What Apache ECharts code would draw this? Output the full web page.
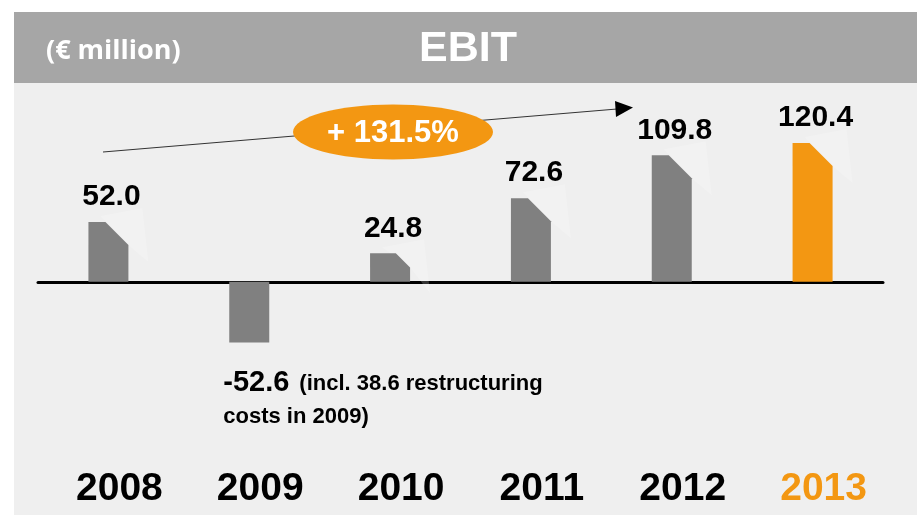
<!DOCTYPE html>
<html>
<head>
<meta charset="utf-8">
<title>EBIT</title>
<script src="https://cdn.jsdelivr.net/npm/echarts@6/dist/echarts.min.js"></script>
<style>
  html, body { margin: 0; padding: 0; background: #fff; }
  #main { width: 917px; height: 517px; }
</style>
</head>
<body>
<div id="main"></div>
<script type="text/javascript">
// EBIT in € million
var years = ['2008', '2009', '2010', '2011', '2012', '2013'];
var ebit = [52.0, -52.6, 24.8, 72.6, 109.8, 120.4];
var notes = ['', '(incl. 38.6 restructuring\ncosts in 2009)', '', '', '', ''];
var highlightYear = '2013';

var gray = '#808080';
var orange = '#f39712';
var font = '"Liberation Sans", Arial, sans-serif';

// growth from first to last year, shown in the orange bubble
var growth = (ebit[ebit.length - 1] - ebit[0]) / ebit[0] * 100;

function renderItem(params, api) {
  var v = api.value(1);
  var base = api.coord([api.value(0), 0]);
  var top = api.coord([api.value(0), v]);
  var w = 40;
  var x0 = base[0] - w / 2, x1 = base[0] + w / 2;
  var color = years[params.dataIndex] === highlightYear ? orange : gray;
  var children = [];
  if (v >= 0) {
    var h = base[1] - top[1];
    var c = Math.min(23, h * 0.5);
    // faint light reflection behind the cut corner
    children.push({
      type: 'polygon',
      shape: { points: [[x0 + 12, top[1] - 6], [x1 + 14, top[1] - 14], [x1 + 20, top[1] + 40], [x1, top[1] + c]] },
      style: { fill: 'rgba(255,255,255,0.2)' }
    });
    children.push({
      type: 'polygon',
      shape: { points: [[x0, base[1]], [x0, top[1]], [x1 - c, top[1]], [x1, top[1] + c], [x1, base[1]]] },
      style: { fill: color }
    });
    children.push({
      type: 'text',
      style: {
        text: v.toFixed(1), x: base[0] + 3, y: top[1] - 10,
        align: 'center', verticalAlign: 'bottom',
        font: 'bold 30px ' + font, fill: '#000'
      }
    });
  } else {
    children.push({
      type: 'rect',
      shape: { x: x0, y: base[1], width: w, height: top[1] - base[1] },
      style: { fill: color }
    });
    var note = notes[params.dataIndex];
    children.push({
      type: 'text',
      style: {
        text: '{big|' + v.toFixed(1) + '}{gap|}{small|' + note + '}',
        x: x0 - 6, y: top[1] + 24,
        align: 'left', verticalAlign: 'top',
        fill: '#000',
        rich: {
          big: { font: 'bold 29px ' + font, lineHeight: 34, fill: '#000' },
          gap: { width: 10 },
          small: { font: 'bold 22px ' + font, lineHeight: 32, fill: '#000' }
        }
      }
    });
  }
  return { type: 'group', children: children };
}

var myChart = echarts.init(document.getElementById('main'), null, { renderer: 'canvas' });
var option = {
  animation: false,
  backgroundColor: '#ffffff',
  graphic: [
    { type: 'rect', z: -10, shape: { x: 14, y: 12, width: 903, height: 71 }, style: { fill: '#a6a6a6' } },
    { type: 'rect', z: -10, shape: { x: 14, y: 83, width: 903, height: 432 }, style: { fill: '#efefef' } },
    { type: 'text', z: 5, style: { text: '(€ million)', x: 46, y: 51, verticalAlign: 'middle', font: 'bold 27px "Open Sans", sans-serif', fill: '#fff' } },
    { type: 'text', z: 5, style: { text: 'EBIT', x: 468, y: 49, align: 'center', verticalAlign: 'middle', font: 'bold 43px ' + font, fill: '#fff' } },
    { type: 'line', z: 5, shape: { x1: 103, y1: 152, x2: 617, y2: 109 }, style: { stroke: '#333', lineWidth: 1 } },
    { type: 'polygon', z: 5, shape: { points: [[615, 101], [633, 107.5], [616, 117]] }, style: { fill: '#000' } },
    { type: 'ellipse', z: 6, shape: { cx: 393, cy: 132, rx: 100, ry: 27.5 }, style: { fill: orange } },
    { type: 'text', z: 7, style: { text: '+ ' + growth.toFixed(1) + '%', x: 393, y: 133, align: 'center', verticalAlign: 'middle', font: 'bold 31px ' + font, fill: '#fff' } }
  ],
  grid: { left: 38, right: 34, top: 132, bottom: 166 },
  xAxis: [
    {
      type: 'category', data: years,
      axisLine: { onZero: true, lineStyle: { color: '#000', width: 3 } },
      axisTick: { show: false }, axisLabel: { show: false }, splitLine: { show: false }
    },
    {
      type: 'category', data: years, position: 'bottom',
      axisLine: { show: false, onZero: false }, axisTick: { show: false }, splitLine: { show: false },
      axisLabel: {
        margin: 119, fontSize: 39, fontWeight: 'bold', fontFamily: font,
        padding: [0, 0, 0, 22],
        color: function (value) { return value === highlightYear ? orange : '#000'; }
      }
    }
  ],
  yAxis: { type: 'value', min: -60, max: 130, show: false, splitLine: { show: false } },
  series: [{
    type: 'custom',
    renderItem: renderItem,
    data: years.map(function (y, i) { return [i, ebit[i]]; }),
    z: 1
  }]
};
myChart.setOption(option);
</script>
</body>
</html>
